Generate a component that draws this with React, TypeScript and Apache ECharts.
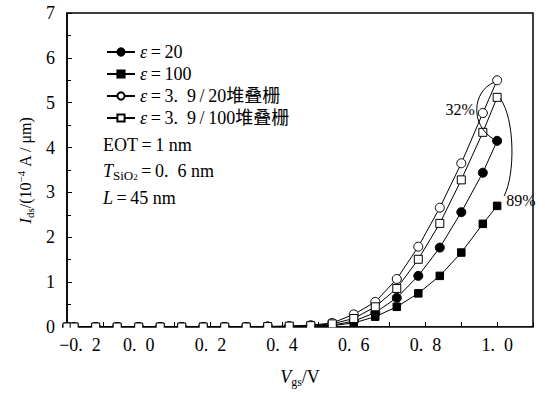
import React, { useEffect, useRef } from "react";
import * as echarts from "echarts";

// ---- data ----
const vgs = [-0.2, -0.18, -0.12, -0.06, 0.0, 0.06, 0.12, 0.18, 0.24, 0.3, 0.36, 0.42, 0.48, 0.54, 0.6, 0.66, 0.72, 0.78, 0.84, 0.9, 0.96, 1.0];
const eps20 = [0, 0, 0, 0, 0, 0, 0, 0, 0, 0, 0.01, 0.01, 0.02, 0.04, 0.13, 0.32, 0.65, 1.14, 1.77, 2.56, 3.44, 4.15];
const eps100 = [0, 0, 0, 0, 0, 0, 0, 0, 0, 0, 0.01, 0.01, 0.02, 0.03, 0.09, 0.23, 0.45, 0.75, 1.14, 1.66, 2.3, 2.7];
const stack20 = [0, 0, 0, 0, 0, 0, 0, 0, 0, 0, 0.01, 0.02, 0.04, 0.09, 0.28, 0.56, 1.07, 1.79, 2.66, 3.65, 4.77, 5.5];
const stack100 = [0, 0, 0, 0, 0, 0, 0, 0, 0, 0, 0.01, 0.02, 0.03, 0.07, 0.19, 0.45, 0.86, 1.51, 2.31, 3.28, 4.34, 5.12];

const TS = "\u2009"; // thin space
const ES = "\u2002"; // en space
const seriesNames = ["e20", "e100", "s20", "s100"];
const legendLabels: Record<string, string> = {
  e20: `{e|ε}{t|${TS}=${TS}20}`,
  e100: `{e|ε}{t|${TS}=${TS}100}`,
  s20: `{e|ε}{t|${TS}=${TS}3.${ES}9${TS}/${TS}20堆叠栅}`,
  s100: `{e|ε}{t|${TS}=${TS}3.${ES}9${TS}/${TS}100堆叠栅}`,
};
const xTicks = { min: -0.2, max: 1.1, interval: 0.2 };
const yTicks = { min: 0, max: 7, interval: 1 };
const pct20 = "32%";
const pct100 = "89%";

const SERIF = "Liberation Serif, DejaVu Serif, Noto Sans CJK SC, serif";
const FS = 18;

const zip = (xs: number[], ys: number[]) => xs.map((x, i) => [x, ys[i]]);

export default function App() {
  const ref = useRef<HTMLDivElement>(null);
  useEffect(() => {
    if (!ref.current) return;
    const chart = echarts.init(ref.current, null, { renderer: "svg" });

    const baseSeries = (name: string, data: number[], symbol: string, size: number, filled: boolean) => ({
      name,
      type: "line",
      data: zip(vgs, data),
      symbol,
      symbolSize: size,
      showAllSymbol: true,
      clip: false,
      lineStyle: { color: "#000", width: 1 },
      itemStyle: { color: filled ? "#000" : "#fff", borderColor: "#000", borderWidth: 1 },
      emphasis: { disabled: true },
    });

    const yRich = {
      n: { fontFamily: SERIF, fontSize: 16, color: "#000", lineHeight: 20 },
      i: { fontFamily: SERIF, fontSize: 17, fontStyle: "italic", color: "#000", lineHeight: 20 },
      s: { fontFamily: SERIF, fontSize: 11, color: "#000", lineHeight: 11, verticalAlign: "bottom" },
      p: { fontFamily: SERIF, fontSize: 11, color: "#000", lineHeight: 11, verticalAlign: "top" },
    };
    const xRich = {
      n: { fontFamily: SERIF, fontSize: FS, color: "#000", lineHeight: 22 },
      i: { fontFamily: SERIF, fontSize: FS, fontStyle: "italic", color: "#000", lineHeight: 22 },
      s: { fontFamily: SERIF, fontSize: 12, color: "#000", lineHeight: 12, verticalAlign: "bottom" },
    };

    const fmtX = (v: number) => {
      const r = Math.round(v * 10) / 10;
      const s = Math.abs(r).toFixed(1).replace(".", "." + ES);
      if (r < 0) return "{m|\u2212" + s + "}";
      return s;
    };

    chart.setOption({
      animation: false,
      grid: { left: 67, right: 12, top: 13, bottom: 66, containLabel: false, outerBoundsMode: "none", show: true, borderColor: "#000", borderWidth: 1.5 },
      legend: {
        orient: "vertical",
        left: 101,
        top: 38,
        itemWidth: 28,
        itemHeight: 9,
        itemGap: 4,
        data: seriesNames,
        formatter: (name: string) => legendLabels[name],
        textStyle: {
          fontFamily: SERIF,
          fontSize: FS,
          color: "#000",
          lineHeight: 18,
          rich: {
            e: { fontFamily: SERIF, fontSize: FS, fontStyle: "italic", color: "#000", lineHeight: 18 },
            t: { fontFamily: SERIF, fontSize: FS, color: "#000", lineHeight: 18 },
          },
        },
        selectedMode: false,
      },
      xAxis: {
        type: "value",
        min: xTicks.min,
        max: xTicks.max,
        interval: xTicks.interval,
        name: "{i|V}{s|gs}{n|/V}",
        nameLocation: "middle",
        nameGap: 39,
        nameTextStyle: { rich: xRich },
        axisLine: { show: true, onZero: false, lineStyle: { color: "#000", width: 1.5 } },
        axisTick: { show: true, inside: true, length: 5, lineStyle: { color: "#000" } },
        minorTick: { show: true, splitNumber: 2, length: 5, lineStyle: { color: "#000" } },
        splitLine: { show: false },
        axisLabel: {
          formatter: fmtX,
          fontFamily: SERIF,
          fontSize: FS,
          color: "#000",
          margin: 9,
          showMaxLabel: false,
          rich: {
            m: { fontFamily: SERIF, fontSize: FS, color: "#000", padding: [0, 0, 0, 26] },
          },
        },
      },
      yAxis: {
        type: "value",
        min: yTicks.min,
        max: yTicks.max,
        interval: yTicks.interval,
        name: "{i|I}{s|ds}{n|/(10}{p|−4}{n| A / μm)}",
        nameLocation: "middle",
        nameRotate: 90,
        nameGap: 31,
        nameTextStyle: { rich: yRich },
        axisLine: { show: true, onZero: false, lineStyle: { color: "#000", width: 1.5 } },
        axisTick: { show: true, inside: true, length: 5, lineStyle: { color: "#000" } },
        minorTick: { show: true, splitNumber: 2, length: 4, lineStyle: { color: "#000" } },
        splitLine: { show: false },
        axisLabel: { fontFamily: SERIF, fontSize: FS, color: "#000", margin: 12 },
      },
      series: [
        baseSeries("e20", eps20, "circle", 9, true),
        baseSeries("e100", eps100, "rect", 7.5, true),
        baseSeries("s20", stack20, "circle", 9, false),
        baseSeries("s100", stack100, "rect", 8, false),
      ],
    });

    const px = (x: number, y: number) => chart.convertToPixel({ gridIndex: 0 }, [x, y]) as number[];
    const n = vgs.length - 1;
    const A = px(vgs[n], stack20[n]);
    const B = px(vgs[n], eps20[n]);
    const C = px(vgs[n], stack100[n]);
    const D = px(vgs[n], eps100[n]);
    const E = px(vgs[n - 1], stack20[n - 1]);
    const O0 = px(xTicks.min, 0);
    const O1 = px(xTicks.max, 0);

    chart.setOption({
      graphic: [
        {
          // hide the lower halves of the markers that sit on the x axis
          type: "rect",
          shape: { x: O0[0] - 6, y: O0[1] + 0.8, width: O1[0] - O0[0] + 12, height: 5 },
          style: { fill: "#fff" },
          z: 50,
        },
        {
          type: "bezierCurve",
          shape: {
            x1: A[0] - 3, y1: A[1] + 2,
            cpx1: A[0] - 25, cpy1: A[1] + 11,
            cpx2: B[0] - 27, cpy2: B[1] - 16,
            x2: B[0] - 4, y2: B[1] - 2,
          },
          style: { stroke: "#000", lineWidth: 1, fill: "none" },
          z: 100,
        },
        {
          type: "bezierCurve",
          shape: {
            x1: C[0] + 3, y1: C[1] + 1,
            cpx1: C[0] + 18, cpy1: C[1] + 22,
            cpx2: D[0] + 18, cpy2: D[1] - 31,
            x2: D[0] + 7, y2: D[1] - 10,
          },
          style: { stroke: "#000", lineWidth: 1, fill: "none" },
          z: 100,
        },
        {
          type: "text",
          x: E[0] - 8,
          y: E[1] - 4,
          style: { text: pct20, fontFamily: SERIF, fontSize: 16, fill: "#000", align: "right", verticalAlign: "middle" },
          z: 100,
        },
        {
          type: "text",
          x: D[0] + 9,
          y: D[1] - 5,
          style: { text: pct100, fontFamily: SERIF, fontSize: 16, fill: "#000", align: "left", verticalAlign: "middle" },
          z: 100,
        },
        {
          type: "text",
          x: 103,
          y: 145,
          style: { text: `EOT${TS}=${TS}1 nm`, fontFamily: SERIF, fontSize: FS, fill: "#000", verticalAlign: "middle" },
          z: 100,
        },
        {
          type: "text",
          x: 103,
          y: 171,
          style: {
            text: `{i|T}{s|SiO}{s2|2}{n|${TS}=${TS}0.${ES}6 nm}`,
            verticalAlign: "middle",
            rich: {
              n: { fontFamily: SERIF, fontSize: FS, fill: "#000", lineHeight: 22 },
              i: { fontFamily: SERIF, fontSize: FS, fontStyle: "italic", fill: "#000", lineHeight: 22 },
              s: { fontFamily: SERIF, fontSize: 13, fill: "#000", lineHeight: 12, verticalAlign: "bottom" },
              s2: { fontFamily: SERIF, fontSize: 9, fill: "#000", lineHeight: 7, verticalAlign: "bottom" },
            },
          },
          z: 100,
        },
        {
          type: "text",
          x: 103,
          y: 198,
          style: {
            text: `{i|L}{n|${TS}=${TS}45 nm}`,
            verticalAlign: "middle",
            rich: {
              n: { fontFamily: SERIF, fontSize: FS, fill: "#000" },
              i: { fontFamily: SERIF, fontSize: FS, fontStyle: "italic", fill: "#000" },
            },
          },
          z: 100,
        },
      ],
    });

    return () => chart.dispose();
  }, []);
  return <div ref={ref} style={{ position: "absolute", left: 0, top: 0, width: 545, height: 393 }} />;
}
